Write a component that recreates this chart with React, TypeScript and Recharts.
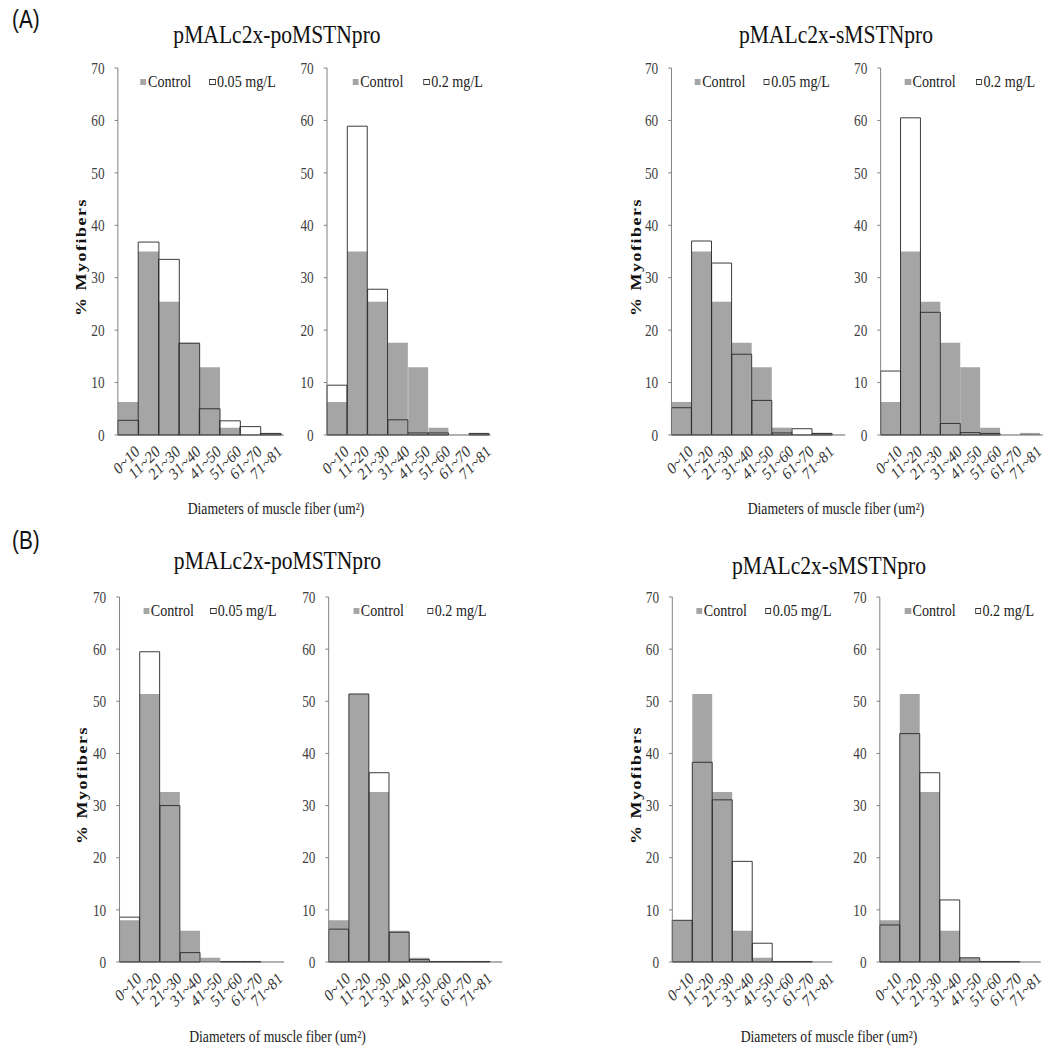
import React from "react";
import { BarChart, Bar, XAxis, YAxis } from "recharts";

// ---------- data ----------
const categories = ["0~10", "11~20", "21~30", "31~40", "41~50", "51~60", "61~70", "71~81"];
const yTicks = [0, 10, 20, 30, 40, 50, 60, 70];
const doseLabels = ["0.05 mg/L", "0.2 mg/L"];
const groupTitles = ["pMALc2x-poMSTNpro", "pMALc2x-sMSTNpro"];
const rowLabels = ["(A)", "(B)"];
const yLabel = "% Myofibers";
const xTitle = "Diameters of muscle fiber (um\u00B2)";
const seriesControl = "Control";

const controlA = [6.3, 35.0, 25.4, 17.6, 12.9, 1.4, 0, 0.4];
const poA005 = [2.8, 36.8, 33.5, 17.5, 5.0, 2.7, 1.6, 0.3];
const poA02 = [9.5, 58.9, 27.8, 2.9, 0.4, 0.4, 0, 0.3];
const sA005 = [5.2, 37.0, 32.8, 15.4, 6.6, 0.4, 1.2, 0.3];
const sA02 = [12.2, 60.5, 23.4, 2.2, 0.45, 0.3, 0, 0];

const controlB = [8.0, 51.4, 32.6, 6.0, 0.8, 0.1, 0.1, 0];
const poB005 = [8.6, 59.5, 30.0, 1.8, 0, 0.1, 0.1, 0];
const poB02 = [6.3, 51.4, 36.3, 5.7, 0.45, 0.1, 0.1, 0.1];
const sB005 = [8.0, 38.3, 31.1, 19.3, 3.6, 0.1, 0.1, 0];
const sB02 = [7.1, 43.8, 36.3, 11.9, 0.8, 0.1, 0.1, 0];

// ---------- layout ----------
const S = 0.83; // horizontal compression of the whole figure
const FONT = "'Liberation Serif','Times New Roman',Times,serif";
const SANS = "'Liberation Sans',Arial,sans-serif";
const GRAY = "#a5a5a5";

const rows = [
  { top: 68, bottom: 435, title: 43, titleR: 43, xt: 514, label: 28, yl: 257 },
  { top: 597, bottom: 962, title: 569, titleR: 574, xt: 1042, label: 549, yl: 785 },
];

const panels = [
  { row: 0, axisX: 117.5, pitch: 20.35, extra: 3, control: controlA, treat: poA005, dose: 0, m1: 23, m2: 92 },
  { row: 0, axisX: 326.7, pitch: 20.3, extra: 1, control: controlA, treat: poA02, dose: 1, m1: 26, m2: 97 },
  { row: 0, axisX: 671.7, pitch: 20.1, extra: 13, control: controlA, treat: sA005, dose: 0, m1: 23, m2: 92 },
  { row: 0, axisX: 881, pitch: 19.9, extra: 3, control: controlA, treat: sA02, dose: 1, m1: 24, m2: 95 },
  { row: 1, axisX: 119.3, pitch: 20.2, extra: 3, control: controlB, treat: poB005, dose: 0, m1: 24, m2: 91 },
  { row: 1, axisX: 328.3, pitch: 20.2, extra: 12, control: controlB, treat: poB02, dose: 1, m1: 25, m2: 99 },
  { row: 1, axisX: 672.3, pitch: 20.0, extra: 0, control: controlB, treat: sB005, dose: 0, m1: 24, m2: 93 },
  { row: 1, axisX: 880, pitch: 20.0, extra: 1, control: controlB, treat: sB02, dose: 1, m1: 25, m2: 95 },
];

const groupCenters = [
  [277, 836],
  [277.5, 829],
];
const xTitleCenters = [
  [276, 836],
  [277.5, 829],
];
const yLabelX = [
  [81, 636],
  [82, 636],
];

const YW = 45;
const MT = 10;
const MR = 5;
const XH = 70;

const XTick = (props: any) => {
  const { x, y, payload } = props;
  const ax = x + 15;
  const ay = y + 18;
  return (
    <text
      x={ax}
      y={ay}
      textAnchor="end"
      transform={`rotate(-40 ${ax} ${ay})`}
      fontFamily={FONT}
      fontSize={17}
      fill="#333"
    >
      {payload.value}
    </text>
  );
};

function Panel({ p }: { p: any }) {
  const r = rows[p.row];
  const plotH = r.bottom - r.top;
  const plotW = (8 * p.pitch + p.extra) / S;
  const width = YW + plotW + MR;
  const height = MT + plotH + XH;
  const left = p.axisX / S - YW;
  const top = r.top - MT;
  const data = categories.map((cat, i) => ({ cat, c: p.control[i], t: p.treat[i] }));
  const pad = { left: 0, right: p.extra / S };
  const legendY = r.top + 13.5;
  const mk = 6;
  const txt = {
    position: "absolute" as const,
    top: legendY - 9.5,
    fontFamily: FONT,
    fontSize: 17,
    lineHeight: "19px",
    color: "#222",
    whiteSpace: "nowrap" as const,
  };
  return (
    <>
      <div style={{ position: "absolute", left, top }}>
        <BarChart
          width={width}
          height={height}
          data={data}
          margin={{ top: MT, right: MR, bottom: 0, left: 0 }}
          barCategoryGap={0}
          barGap={0}
        >
          <XAxis
            xAxisId="c"
            dataKey="cat"
            height={XH}
            interval={0}
            tickLine={false}
            tickSize={0}
            tickMargin={0}
            axisLine={{ stroke: "#555", strokeWidth: 1 }}
            tick={<XTick />}
            padding={pad}
          />
          <XAxis xAxisId="t" dataKey="cat" hide padding={pad} />
          <YAxis
            width={YW}
            domain={[0, 70]}
            ticks={yTicks}
            interval={0}
            tickSize={4}
            tickMargin={12}
            axisLine={{ stroke: "#777" }}
            tickLine={{ stroke: "#777" }}
            tick={{ fontFamily: FONT, fontSize: 16, fill: "#404040" }}
          />
          <Bar dataKey="c" xAxisId="c" fill={GRAY} isAnimationActive={false} />
          <Bar
            dataKey="t"
            xAxisId="t"
            fill="none"
            stroke="#2a2a2a"
            strokeWidth={1}
            isAnimationActive={false}
          />
        </BarChart>
      </div>
      {/* legend */}
      <div
        style={{
          position: "absolute",
          left: (p.axisX + p.m1) / S,
          top: legendY - mk / 2,
          width: mk / S,
          height: mk,
          background: GRAY,
        }}
      />
      <div style={{ ...txt, left: (p.axisX + p.m1 + 7.5) / S }}>{seriesControl}</div>
      <div
        style={{
          position: "absolute",
          left: (p.axisX + p.m2) / S,
          top: legendY - mk / 2,
          width: mk / S,
          height: mk,
          background: "#fff",
          border: "1px solid #333",
          boxSizing: "border-box",
        }}
      />
      <div style={{ ...txt, left: (p.axisX + p.m2 + 7.5) / S }}>{doseLabels[p.dose]}</div>
    </>
  );
}

export default function App() {
  const W = 1053 / S;
  return (
    <div
      style={{
        position: "absolute",
        left: 0,
        top: 0,
        width: 1053,
        height: 1048,
        overflow: "hidden",
        background: "#fff",
      }}
    >
      <div
        style={{
          position: "absolute",
          left: 0,
          top: 0,
          width: W,
          height: 1048,
          transform: `scaleX(${S})`,
          transformOrigin: "0 0",
        }}
      >
        {panels.map((p, i) => (
          <Panel key={i} p={p} />
        ))}
        <svg
          width={W}
          height={1048}
          style={{ position: "absolute", left: 0, top: 0, pointerEvents: "none" }}
        >
          {rows.map((r, ri) => (
            <g key={ri}>
              <text x={12 / S} y={r.label} fontFamily={SANS} fontSize={25} fill="#111">
                {rowLabels[ri]}
              </text>
              {groupTitles.map((t, gi) => (
                <text
                  key={"t" + gi}
                  x={groupCenters[ri][gi] / S}
                  y={gi === 0 ? r.title : r.titleR}
                  textAnchor="middle"
                  fontFamily={FONT}
                  fontSize={26}
                  fill="#111"
                >
                  {t}
                </text>
              ))}
              {[0, 1].map((gi) => (
                <text
                  key={"x" + gi}
                  x={xTitleCenters[ri][gi] / S}
                  y={r.xt}
                  textAnchor="middle"
                  fontFamily={FONT}
                  fontSize={16.5}
                  fill="#222"
                >
                  {xTitle}
                </text>
              ))}
              {[0, 1].map((gi) => {
                const x = yLabelX[ri][gi] / S;
                return (
                  <text
                    key={"y" + gi}
                    x={x}
                    y={r.yl}
                    textAnchor="middle"
                    dominantBaseline="central"
                    transform={`rotate(-90 ${x} ${r.yl})`}
                    fontFamily={FONT}
                    fontWeight="bold"
                    fontSize={18}
                    letterSpacing={1.5}
                    fill="#111"
                  >
                    {yLabel}
                  </text>
                );
              })}
            </g>
          ))}
        </svg>
      </div>
    </div>
  );
}
